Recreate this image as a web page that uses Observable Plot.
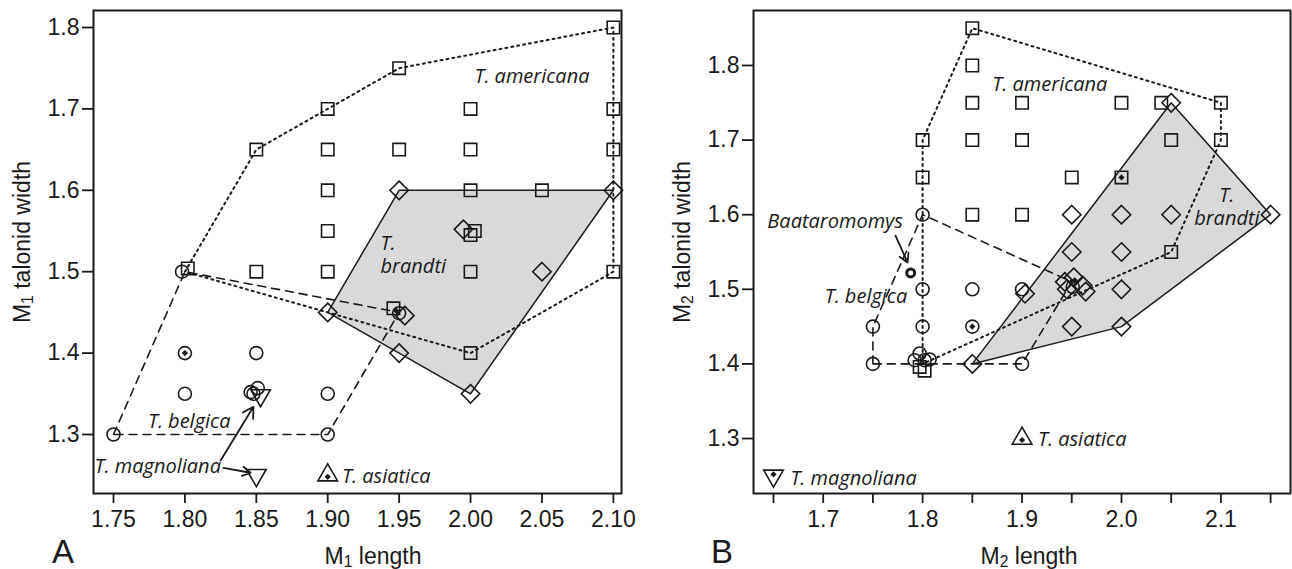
<!DOCTYPE html>
<html><head><meta charset="utf-8">
<script src="https://cdn.jsdelivr.net/npm/d3@7"></script>
<script src="https://cdn.jsdelivr.net/npm/@observablehq/plot@0.6"></script>
<style>
body{margin:0;background:#fff;}
#wrap{position:relative;width:1292px;height:569px;overflow:hidden;font-family:"Liberation Sans",Arial,sans-serif;color:#1a1a1a;background:#fff}
.pan{position:absolute;top:0}
.ttl{position:absolute;font-size:23px;line-height:1;white-space:nowrap;transform:translate(-50%,-50%)}
.rot{transform:translate(-50%,-50%) rotate(-90deg)}
.sb{font-size:0.68em;position:relative;top:0.22em}
.let{position:absolute;font-size:33px;line-height:1;transform:translate(-50%,-50%)}
</style></head><body>
<div id="wrap">
 <div id="pA" class="pan" style="left:0"></div>
 <div id="pB" class="pan" style="left:646px"></div>
 <div class="ttl" style="left:373px;top:556px">M<span class="sb">1</span> length</div>
 <div class="ttl" style="left:1029px;top:556px">M<span class="sb">2</span> length</div>
 <div class="ttl rot" style="left:22px;top:242px">M<span class="sb">1</span> talonid width</div>
 <div class="ttl rot" style="left:682px;top:242px">M<span class="sb">2</span> talonid width</div>
 <div class="let" style="left:63px;top:551px">A</div>
 <div class="let" style="left:722px;top:551px">B</div>
</div>
<script>
// ---------- Panel A : M1 ----------
const A_xTicks = [1.75, 1.80, 1.85, 1.90, 1.95, 2.00, 2.05, 2.10];
const A_yTicks = [1.3, 1.4, 1.5, 1.6, 1.7, 1.8];
const A_americana = [[1.802,1.504],[1.85,1.65],[1.85,1.50],[1.90,1.70],[1.90,1.65],[1.90,1.60],[1.90,1.55],[1.90,1.50],
  [1.95,1.75],[1.95,1.65],[1.946,1.455],[2.00,1.70],[2.00,1.65],[2.00,1.60],[2.003,1.55],[2.00,1.545],[2.00,1.50],[2.00,1.40],
  [2.05,1.60],[2.10,1.80],[2.10,1.70],[2.10,1.65],[2.10,1.50]];
const A_americanaHull = [[1.80,1.50],[1.85,1.65],[1.90,1.70],[1.95,1.75],[2.10,1.80],[2.10,1.50],[2.00,1.40]];
const A_brandti = [[1.90,1.45],[1.95,1.60],[2.10,1.60],[2.00,1.35],[1.95,1.40],[1.995,1.552],[2.05,1.50],[1.954,1.446]];
const A_brandtiHull = [[1.90,1.45],[1.95,1.60],[2.10,1.60],[2.00,1.35]];
const A_belgica = [[1.75,1.30],[1.798,1.50],[1.80,1.40],[1.80,1.35],[1.85,1.40],[1.846,1.352],[1.851,1.357],[1.848,1.35],
  [1.90,1.35],[1.90,1.30],[1.95,1.449]];
const A_belgicaHull = [[1.75,1.30],[1.80,1.50],[1.95,1.45],[1.90,1.30]];
const A_magnoliana = [[1.853,1.348],[1.85,1.25]];
const A_asiatica = [[1.90,1.25]];
const A_inner = [[1.80,1.40],[1.948,1.452],[1.90,1.248]];
const A_arrows = [[1.825,1.268,1.848,1.334],[1.827,1.259,1.846,1.253]];
const A_labelsMid = [{t:"T. americana",x:2.043,y:1.741},{t:"T. belgica",x:1.803,y:1.317},{t:"T. magnoliana",x:1.781,y:1.262}];
const A_labelsStart = [{t:"T.\nbrandti",x:1.937,y:1.522},{t:"T. asiatica",x:1.910,y:1.25}];

// ---------- Panel B : M2 ----------
const B_xTicks = [1.65, 1.70, 1.75, 1.80, 1.85, 1.90, 1.95, 2.00, 2.05, 2.10, 2.15];
const B_xLabeled = [1.7, 1.8, 1.9, 2.0, 2.1];
const B_yTicks = [1.3, 1.4, 1.5, 1.6, 1.7, 1.8];
const B_americana = [[1.80,1.70],[1.80,1.65],[1.85,1.85],[1.85,1.80],[1.85,1.75],[1.85,1.70],[1.85,1.60],[1.90,1.75],[1.90,1.70],
  [1.90,1.60],[1.95,1.65],[2.00,1.75],[2.00,1.65],[2.04,1.75],[2.05,1.70],[2.05,1.55],[2.10,1.75],[2.10,1.70],[1.797,1.396],[1.802,1.391]];
const B_americanaHull = [[1.80,1.40],[1.80,1.70],[1.85,1.85],[2.10,1.75],[2.10,1.70],[2.05,1.55]];
const B_brandti = [[1.85,1.40],[1.903,1.494],[1.95,1.60],[2.00,1.60],[2.05,1.60],[1.95,1.55],[2.00,1.55],[1.943,1.510],[1.952,1.516],
  [1.961,1.505],[1.945,1.500],[1.964,1.497],[2.00,1.50],[1.95,1.45],[2.00,1.45],[2.05,1.75],[2.15,1.60]];
const B_brandtiHull = [[1.85,1.40],[2.05,1.75],[2.15,1.60],[2.00,1.45]];
const B_belgica = [[1.75,1.40],[1.75,1.45],[1.80,1.60],[1.80,1.50],[1.80,1.45],[1.792,1.405],[1.797,1.414],[1.802,1.405],[1.807,1.406],
  [1.85,1.50],[1.85,1.45],[1.90,1.50],[1.90,1.40],[1.951,1.503]];
const B_belgicaHull = [[1.75,1.40],[1.75,1.45],[1.80,1.60],[1.95,1.51],[1.90,1.40]];
const B_baataromomys = [[1.788,1.522]];
const B_magnoliana = [[1.65,1.25]];
const B_asiatica = [[1.90,1.30]];
const B_inner = [[1.85,1.45],[2.00,1.65],[1.953,1.512],[1.65,1.252],[1.90,1.298]];
const B_arrows = [[1.7727,1.572,1.7848,1.536]];
const B_labelsMid = [{t:"T. americana",x:1.928,y:1.776},{t:"T.\nbrandti",x:2.106,y:1.611},
  {t:"Baataromomys",x:1.712,y:1.592},{t:"T. belgica",x:1.743,y:1.492}];
const B_labelsStart = [{t:"T. asiatica",x:1.916,y:1.30},{t:"T. magnoliana",x:1.667,y:1.247}];

const INK = "#1a1a1a";
const X = d => d[0], Y = d => d[1];

function panel(c) {
  const sym = (data, symbol, r, extra = {}) =>
    Plot.dot(data, {x: X, y: Y, symbol, r, stroke: INK, strokeWidth: 1.6, fill: "none", ...extra});
  const lab = (data, anchor) =>
    Plot.text(data, {x: "x", y: "y", text: "t", textAnchor: anchor, lineHeight: 1.15, fontStyle: "italic",
      fontFamily: "Open Sans", fontSize: 20, fill: INK});
  return Plot.plot({
    width: 646, height: 569,
    marginLeft: c.ml, marginRight: c.mr, marginTop: 10, marginBottom: 76,
    x: {domain: c.xDomain}, y: {domain: c.yDomain},
    style: {fontFamily: "Liberation Sans, Arial, sans-serif", fontSize: "23px", color: INK, background: "transparent", overflow: "visible"},
    marks: [
      Plot.line(c.brandtiHull, {x: X, y: Y, curve: "linear-closed", fill: "#d9d9d9", stroke: INK, strokeWidth: 1.5}),
      Plot.line(c.americanaHull, {x: X, y: Y, curve: "linear-closed", stroke: INK, strokeWidth: 2, strokeDasharray: "2,4"}),
      Plot.line(c.belgicaHull, {x: X, y: Y, curve: "linear-closed", stroke: INK, strokeWidth: 1.6, strokeDasharray: "8,6"}),
      Plot.frame({stroke: INK, strokeWidth: 2}),
      Plot.axisX({ticks: c.xTicks, tickFormat: c.xFormat, tickSize: 10, tickPadding: 7, fontSize: 23, strokeWidth: 1.8, label: null}),
      Plot.axisY({ticks: c.yTicks, tickFormat: d3.format(".1f"), tickSize: 11, tickPadding: 3, fontSize: 23, strokeWidth: 1.8, label: null}),
      sym(c.americana, "square", 7),
      sym(c.brandti, "diamond2", 8.3),
      sym(c.belgica, "circle", 6.5),
      sym(c.magnoliana, "triangle", 7.3, {rotate: 180}),
      sym(c.asiatica, "triangle", 7.3),
      ...(c.baat ? [sym(c.baat, "circle", 4, {strokeWidth: 3})] : []),
      Plot.dot(c.inner, {x: X, y: Y, symbol: "diamond2", r: 2.8, fill: INK}),
      Plot.arrow(c.arrows, {x1: d => d[0], y1: d => d[1], x2: d => d[2], y2: d => d[3], stroke: INK, strokeWidth: 1.8, headLength: 10}),
      lab(c.labelsMid, "middle"),
      lab(c.labelsStart, "start")
    ]
  });
}

document.getElementById("pA").append(panel({
  ml: 93, mr: 25, xDomain: [1.736, 2.1057], yDomain: [1.2275, 1.8209],
  xTicks: A_xTicks, xFormat: d3.format(".2f"), yTicks: A_yTicks,
  americana: A_americana, americanaHull: A_americanaHull, brandti: A_brandti, brandtiHull: A_brandtiHull,
  belgica: A_belgica, belgicaHull: A_belgicaHull, magnoliana: A_magnoliana, asiatica: A_asiatica,
  inner: A_inner, arrows: A_arrows, labelsMid: A_labelsMid, labelsStart: A_labelsStart
}));

document.getElementById("pB").append(panel({
  ml: 107, mr: 2, xDomain: [1.6299, 2.170], yDomain: [1.2263, 1.8737],
  xTicks: B_xTicks, yTicks: B_yTicks,
  xFormat: d => B_xLabeled.some(v => Math.abs(v - d) < 1e-6) ? d3.format(".1f")(d) : "",
  americana: B_americana, americanaHull: B_americanaHull, brandti: B_brandti, brandtiHull: B_brandtiHull,
  belgica: B_belgica, belgicaHull: B_belgicaHull, magnoliana: B_magnoliana, asiatica: B_asiatica,
  baat: B_baataromomys, inner: B_inner, arrows: B_arrows, labelsMid: B_labelsMid, labelsStart: B_labelsStart
}));
</script>
</body></html>
